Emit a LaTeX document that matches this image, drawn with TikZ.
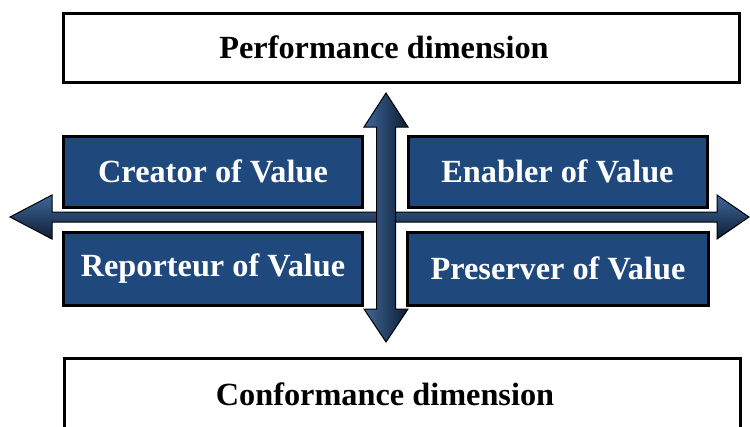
\documentclass[tikz,border=0pt]{standalone}
\usepackage{fontspec}
\setmainfont{Liberation Serif}
\definecolor{boxblue}{HTML}{1F497D}
\definecolor{arrlight}{HTML}{3F6799}
\definecolor{arrdark}{HTML}{0D1D35}
\begin{document}
\begin{tikzpicture}[x=1pt,y=-1pt,
  valbox/.style={draw=black,line width=3pt,fill=boxblue,text=white,
    minimum width=299pt,minimum height=71pt,inner sep=0pt,
    font=\fontsize{32.3}{36}\selectfont\bfseries},
  dimbox/.style={draw=black,line width=3pt,fill=white,text=black,
    minimum width=676pt,minimum height=69pt,inner sep=0pt,
    font=\fontsize{32.3}{36}\selectfont\bfseries},
  arrowshape/.style={draw=black,line width=1pt,line join=miter}]
\useasboundingbox (0,0) rectangle (750,426);
\node[dimbox] (perf) at (401,47.5) {Performance dimension\hspace*{34pt}};
\node[dimbox,minimum height=72pt] (conf) at (402,394.5) {Conformance dimension\hspace*{34pt}};
\node[valbox] (creator) at (213,171.5) {Creator of Value};
\node[valbox] (enabler) at (557.5,171.5) {Enabler of Value};
\node[valbox,minimum height=73pt] (report) at (213,268.5) {Reporteur of Value};
\node[valbox,minimum height=73pt,minimum width=301pt] (preserve) at (558,268.5) {Preserver of Value};
% horizontal double arrow
\path[arrowshape,top color=arrlight,bottom color=arrdark]
  (10,217) -- (52,195) -- (52,212) -- (717,212) -- (717,195) -- (749,217)
  -- (717,239) -- (717,222) -- (52,222) -- (52,239) -- cycle;
% vertical double arrow
\path[arrowshape,left color=arrlight,right color=arrdark]
  (386,93) -- (408,127) -- (395.5,127) -- (395.5,309) -- (408,309) -- (386,342)
  -- (364,309) -- (376.5,309) -- (376.5,127) -- (364,127) -- cycle;
\end{tikzpicture}
\end{document}
